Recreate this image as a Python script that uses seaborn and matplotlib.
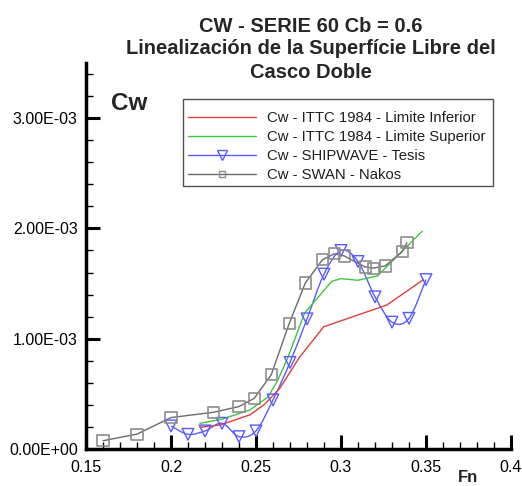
import numpy as np
import pandas as pd
import matplotlib
matplotlib.use("Agg")
import matplotlib.pyplot as plt
import seaborn as sns
from matplotlib.path import Path
from matplotlib.patches import PathPatch, Rectangle
from matplotlib.lines import Line2D
from matplotlib.ticker import MultipleLocator, FuncFormatter

# ---------------- data ----------------
ittc_lo_fn = [0.217, 0.229, 0.2465, 0.255, 0.264, 0.2755, 0.2898, 0.327, 0.3485]
ittc_lo_cw = [0.197, 0.218, 0.31, 0.405, 0.55, 0.83, 1.108, 1.306, 1.536]

ittc_hi_fn = [0.217, 0.23, 0.2465, 0.257, 0.263, 0.269, 0.2785, 0.2945, 0.300, 0.310, 0.3215, 0.3478]
ittc_hi_cw = [0.233, 0.27, 0.355, 0.47, 0.63, 0.84, 1.23, 1.52, 1.545, 1.53, 1.57, 1.975]

ship_fn = [0.20, 0.21, 0.22, 0.23, 0.24, 0.25, 0.26, 0.27, 0.28, 0.29, 0.30, 0.31, 0.32, 0.33, 0.34, 0.35]
ship_cw = [0.209, 0.133, 0.164, 0.233, 0.112, 0.164, 0.445, 0.785, 1.18, 1.585, 1.80, 1.70, 1.38, 1.15, 1.185, 1.536]

swan_fn = [0.16, 0.18, 0.20, 0.225, 0.24, 0.249, 0.259, 0.2695, 0.279, 0.289, 0.296, 0.302, 0.3143, 0.319, 0.326, 0.336, 0.3388]
swan_cw = [0.075, 0.135, 0.285, 0.333, 0.385, 0.46, 0.675, 1.136, 1.505, 1.715, 1.77, 1.75, 1.65, 1.64, 1.66, 1.79, 1.87]

labels = ["Cw - ITTC 1984 - Limite Inferior", "Cw - ITTC 1984 - Limite Superior",
          "Cw - SHIPWAVE - Tesis", "Cw - SWAN - Nakos"]
title_lines = ["CW - SERIE 60 Cb = 0.6", "Linealización de la Superfície Libre del", "Casco Doble"]
x_ticks = [0.15, 0.2, 0.25, 0.3, 0.35, 0.4]
y_ticks = [0.0, 1e-3, 2e-3, 3e-3]

SCALE = 1e-3

sns.set_theme(style="white")
plt.rcParams['font.family'] = ['Liberation Sans', 'DejaVu Sans']

c_red = "#e03c3c"
c_green = "#3cc83c"
c_blue = "#5a5aff"
c_gray_line = "#6a6a6a"
c_gray_mk = "#8c8c8c"

fig = plt.figure(figsize=(5.22, 4.86), dpi=100)
W, H = 522, 486
ax = fig.add_axes([86 / W, 1 - 449 / H, (511 - 86) / W, (449 - 63) / H])

def df(fn, cw):
    return pd.DataFrame({"Fn": fn, "Cw": np.array(cw) * SCALE})

sns.lineplot(data=df(ittc_lo_fn, ittc_lo_cw), x="Fn", y="Cw", ax=ax, color=c_red, lw=1.0, sort=False)
sns.lineplot(data=df(ittc_hi_fn, ittc_hi_cw), x="Fn", y="Cw", ax=ax, color=c_green, lw=1.0, sort=False)

# SHIPWAVE: smooth curve through the points (Catmull-Rom as cubic Bezier)
sx = np.array(ship_fn)
sy = np.array(ship_cw) * SCALE
verts = [(sx[0], sy[0])]
codes = [Path.MOVETO]
n = len(sx)
for i in range(n - 1):
    p0 = np.array([sx[max(i - 1, 0)], sy[max(i - 1, 0)]])
    p1 = np.array([sx[i], sy[i]])
    p2 = np.array([sx[i + 1], sy[i + 1]])
    p3 = np.array([sx[min(i + 2, n - 1)], sy[min(i + 2, n - 1)]])
    c1 = p1 + (p2 - p0) / 6.0
    c2 = p2 - (p3 - p1) / 6.0
    verts += [tuple(c1), tuple(c2), tuple(p2)]
    codes += [Path.CURVE4] * 3
ax.add_patch(PathPatch(Path(verts, codes), facecolor="none", edgecolor=c_blue, lw=1.0))
sns.scatterplot(data=df(ship_fn, ship_cw), x="Fn", y="Cw", ax=ax, marker="v", s=70,
                facecolor="none", edgecolor=c_blue, linewidth=1.0, zorder=4)

sns.lineplot(data=df(swan_fn, swan_cw), x="Fn", y="Cw", ax=ax, color=c_gray_line, lw=1.0, sort=False)
sns.scatterplot(data=df(swan_fn, swan_cw), x="Fn", y="Cw", ax=ax, marker="s", s=65,
                facecolor="none", edgecolor=c_gray_mk, linewidth=1.2, zorder=4)

ax.set_xlim(0.15, 0.4)
ax.set_ylim(0, 3.5e-3)
ax.set_xticks(x_ticks)
ax.set_yticks(y_ticks)
ax.xaxis.set_minor_locator(MultipleLocator(0.01))
ax.yaxis.set_minor_locator(MultipleLocator(0.2e-3))
ax.xaxis.set_major_formatter(FuncFormatter(lambda v, p: f"{v:g}"))
ax.yaxis.set_major_formatter(FuncFormatter(lambda v, p: f"{v:.2E}"))
ax.tick_params(axis="both", which="major", direction="in", length=10, width=2.2, color="black",
               labelsize=11.5, labelcolor="black", pad=6)
ax.tick_params(axis="both", which="minor", direction="in", length=5, width=1.0, color="black")
ax.tick_params(axis="x", which="major", pad=8)
ax.tick_params(bottom=True, left=True, which="both")
for s in ["top", "right"]:
    ax.spines[s].set_visible(False)
for s in ["left", "bottom"]:
    ax.spines[s].set_linewidth(2.5)
    ax.spines[s].set_color("black")
ax.set_xlabel("")
ax.set_ylabel("")
ax.set_facecolor("white")
ax.patch.set_alpha(0)

# legend box (frame drawn separately to match the padding)
fig.patches.append(Rectangle((183 / W, 1 - 186 / H), (493 - 183) / W, (186 - 99) / H,
                             transform=fig.transFigure, facecolor="white", edgecolor="#505050",
                             lw=1.0, zorder=5))
handles = [
    Line2D([], [], color=c_red, lw=1.0),
    Line2D([], [], color=c_green, lw=1.0),
    Line2D([], [], color=c_blue, lw=1.0, marker="v", ms=6.5, mfc="none", mec=c_blue),
    Line2D([], [], color=c_gray_line, lw=1.0, marker="s", ms=5, mfc="none", mec=c_gray_mk),
]
leg = fig.legend(handles, labels, loc="upper left", bbox_to_anchor=(188 / W, 1 - 111 / H),
                 fontsize=10.7, frameon=False, handlelength=4.6, handletextpad=0.72,
                 borderpad=0, labelspacing=0.33, borderaxespad=0)
leg.set_zorder(6)
for t in leg.get_texts():
    t.set_color("#202020")

# title and labels
fs_title = 14.5
fig.text(311 / W, 1 - 26 / H, title_lines[0], ha="center", va="center", fontsize=fs_title, fontweight="bold")
fig.text(311 / W, 1 - 49 / H, title_lines[1], ha="center", va="center", fontsize=fs_title, fontweight="bold")
fig.text(311 / W, 1 - 72 / H, title_lines[2], ha="center", va="center", fontsize=fs_title, fontweight="bold")
fig.text(111 / W, 1 - 104 / H, "Cw", ha="left", va="center", fontsize=17.5, fontweight="bold")
fig.text(468 / W, 1 - 477 / H, "Fn", ha="center", va="center", fontsize=12, fontweight="bold")

fig.savefig("out.png", dpi=100, facecolor="white")
